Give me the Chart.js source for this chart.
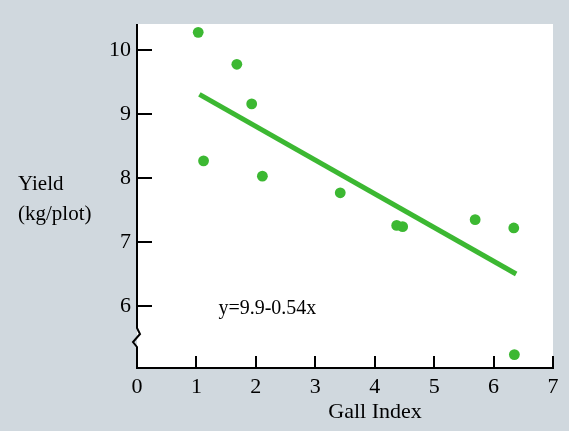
<!DOCTYPE html>
<html lang="en">
<head>
    <meta charset="UTF-8">
    <title>Yield vs Gall Index</title>
    <script src="https://cdn.jsdelivr.net/npm/chart.js"></script>
    <style>
        body { margin: 0; background: #d0d8de; }
        #wrap { width: 569px; height: 431px; }
    </style>
</head>
<body>
    <div id="wrap"><canvas id="myChart" width="569" height="431"></canvas></div>

    <script>
        // data
        const gallIndex = [1.03, 1.12, 1.68, 1.93, 2.11, 3.42, 4.37, 4.47, 5.69, 6.34, 6.35];
        const yieldKg   = [10.28, 8.27, 9.78, 9.16, 8.03, 7.77, 7.26, 7.24, 7.35, 7.22, 5.24];
        const fitX = [1.05, 6.38];
        const fitY = [9.31, 6.50];
        const yTicks = [6, 7, 8, 9, 10];
        const xTicks = [0, 1, 2, 3, 4, 5, 6, 7];
        const equationText = 'y=9.9-0.54x';
        const yLabelLines = ['Yield', '(kg/plot)'];
        const xLabel = 'Gall Index';

        const green = 'rgb(60, 184, 50)';
        const serif = '"Liberation Serif", "Times New Roman", serif';

        const decor = {
            id: 'decor',
            beforeDraw(chart) {
                const c = chart.ctx, a = chart.chartArea;
                c.save();
                c.fillStyle = '#d0d8de';
                c.fillRect(0, 0, chart.width, chart.height);
                c.fillStyle = '#ffffff';
                c.fillRect(a.left, a.top, a.right - a.left, a.bottom - a.top);
                c.restore();
            },
            afterDraw(chart) {
                const c = chart.ctx, a = chart.chartArea;
                const xs = chart.scales.x, ys = chart.scales.y;
                c.save();
                c.strokeStyle = '#000';
                c.lineWidth = 2;

                // y axis with break
                const x0 = a.left;
                c.beginPath();
                c.moveTo(x0, a.top);
                c.lineTo(x0, 328);
                c.lineTo(x0 + 3, 334);
                c.lineTo(x0 - 4, 342);
                c.lineTo(x0, 347);
                c.lineTo(x0, a.bottom);
                c.stroke();

                // inside ticks
                yTicks.forEach(v => {
                    const py = Math.round(ys.getPixelForValue(v));
                    c.beginPath();
                    c.moveTo(x0, py);
                    c.lineTo(x0 + 15, py);
                    c.stroke();
                });
                xTicks.slice(1).forEach(v => {
                    const px = Math.round(xs.getPixelForValue(v));
                    c.beginPath();
                    c.moveTo(px, a.bottom);
                    c.lineTo(px, a.bottom - 12);
                    c.stroke();
                });

                // texts
                c.fillStyle = '#000';
                c.font = '21px ' + serif;
                c.textBaseline = 'middle';
                c.textAlign = 'left';
                c.fillText(yLabelLines[0], 18, 184);
                c.fillText(yLabelLines[1], 18, 214);
                c.textAlign = 'center';
                c.font = '22px ' + serif;
                c.fillText(xLabel, 375, 412);
                c.textAlign = 'left';
                c.font = '20px ' + serif;
                c.fillText(equationText, xs.getPixelForValue(1.37), ys.getPixelForValue(5.95));
                c.restore();
            }
        };

        const ctx = document.getElementById('myChart').getContext('2d');
        new Chart(ctx, {
            type: 'scatter',
            data: {
                datasets: [{
                    type: 'line',
                    data: fitX.map((x, i) => ({ x: x, y: fitY[i] })),
                    borderColor: green,
                    borderWidth: 5,
                    pointRadius: 0,
                    fill: false
                }, {
                    data: gallIndex.map((x, i) => ({ x: x, y: yieldKg[i] })),
                    backgroundColor: green,
                    borderWidth: 0,
                    pointRadius: 5.4
                }]
            },
            options: {
                responsive: false,
                animation: false,
                layout: { padding: { left: 0, top: 24, right: 16, bottom: 0 } },
                plugins: { legend: { display: false }, tooltip: { enabled: false } },
                scales: {
                    x: {
                        type: 'linear',
                        min: 0,
                        max: 7,
                        afterBuildTicks: s => { s.ticks = xTicks.map(v => ({ value: v })); },
                        afterFit: s => { s.height = 63; },
                        grid: { display: false, drawTicks: false },
                        border: { display: true, color: '#000', width: 2 },
                        ticks: { color: '#000', padding: 6, font: { family: serif, size: 22 } }
                    },
                    y: {
                        type: 'linear',
                        min: 5.03,
                        max: 10.41,
                        afterBuildTicks: s => { s.ticks = yTicks.map(v => ({ value: v })); },
                        afterFit: s => { s.width = 137; },
                        grid: { display: false, drawTicks: false },
                        border: { display: false },
                        ticks: { color: '#000', padding: 6, font: { family: serif, size: 22 } }
                    }
                }
            },
            plugins: [decor]
        });
    </script>
</body>
</html>
